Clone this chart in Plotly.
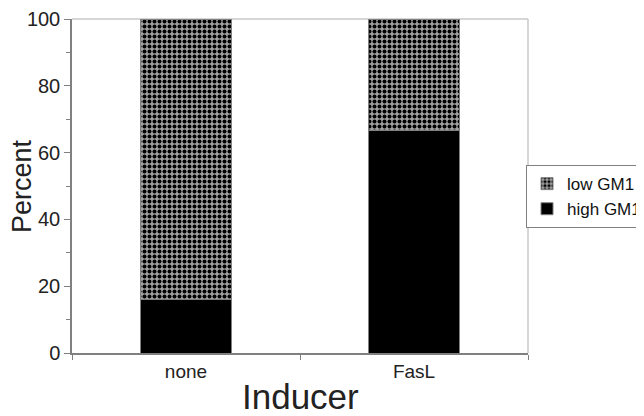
import plotly.graph_objects as go

categories = ["none", "FasL"]
high_gm1 = [16, 66.5]
low_gm1 = [84, 33.5]
y_ticks = [0, 20, 40, 60, 80, 100]

FONT = "Liberation Sans, Arial, sans-serif"
TXT = "#222222"

fig = go.Figure()
fig.add_trace(go.Bar(
    x=categories, y=high_gm1, name="high GM1",
    marker=dict(color="black", line=dict(color="#808080", width=1)),
    width=0.4,
))
fig.add_trace(go.Bar(
    x=categories, y=low_gm1, name="low GM1",
    marker=dict(color="white", line=dict(color="#808080", width=1),
                pattern=dict(shape=".", fgcolor="black", bgcolor="#a0a0a0",
                             size=5, solidity=0.5, fillmode="replace")),
    width=0.4,
))

# page body adds an 8px offset; figure sized so it fills the 644x416 window
fig.update_layout(
    width=636, height=408,
    barmode="stack",
    paper_bgcolor="white", plot_bgcolor="white",
    margin=dict(l=64, r=116, t=11, b=63, autoexpand=False),
    font=dict(family=FONT, color=TXT),
    showlegend=True,
    legend=dict(
        xref="container", yref="container",
        x=0.8145, xanchor="left", y=0.615, yanchor="top",
        traceorder="reversed",
        font=dict(size=17, family=FONT, color="#111111"),
        bordercolor="#808080", borderwidth=1,
        itemwidth=30, tracegroupgap=0,
    ),
    xaxis=dict(
        type="category", range=[-0.5, 1.5], automargin=False,
        tickson="boundaries", ticks="outside", ticklen=5, tickcolor="#808080",
        showline=True, linecolor="#808080", linewidth=1.5,
        showgrid=False, zeroline=False,
        tickfont=dict(size=19, family=FONT, color=TXT),
    ),
    yaxis=dict(
        range=[0, 100], tickvals=y_ticks, automargin=False,
        ticks="outside", ticklen=6, tickcolor="#808080",
        minor=dict(dtick=10, ticks="outside", ticklen=4, tickcolor="#808080"),
        showline=True, linecolor="#808080", linewidth=1.5,
        showgrid=False, zeroline=False,
        tickfont=dict(size=20, family=FONT, color=TXT),
    ),
    annotations=[
        dict(text="Percent", textangle=-90, xref="paper", yref="paper",
             x=0, y=0.5, xanchor="center", yanchor="middle", xshift=-50,
             showarrow=False, font=dict(size=27, family=FONT, color=TXT)),
        dict(text="Inducer", xref="paper", yref="paper",
             x=0.5, y=0, xanchor="center", yanchor="middle", yshift=-43,
             showarrow=False, font=dict(size=35, family=FONT, color=TXT)),
    ],
)

fig.add_shape(type="line", xref="paper", yref="paper", x0=0, x1=1, y0=1, y1=1,
              line=dict(color="#c8c8c8", width=1.5), layer="below")
fig.add_shape(type="line", xref="paper", yref="paper", x0=1, x1=1, y0=0, y1=1,
              line=dict(color="#c8c8c8", width=1.5), layer="below")

fig.write_html("out.html")
